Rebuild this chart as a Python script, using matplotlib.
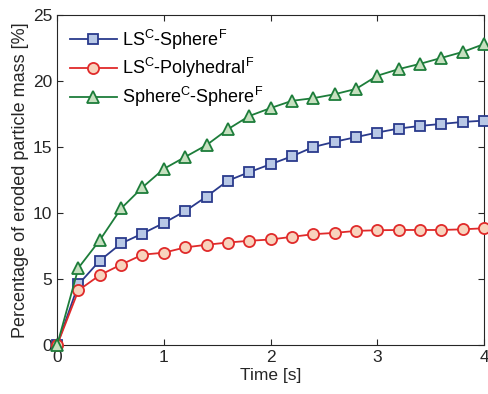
import numpy as np
import matplotlib
matplotlib.use('Agg')
import matplotlib.pyplot as plt

plt.rcParams['font.family'] = ['Liberation Sans', 'DejaVu Sans']
plt.rcParams['mathtext.fontset'] = 'custom'
plt.rcParams['mathtext.rm'] = 'Liberation Sans'
plt.rcParams['mathtext.it'] = 'Liberation Sans:italic'

time = [0.0, 0.2, 0.4, 0.6, 0.8, 1.0, 1.2, 1.4, 1.6, 1.8, 2.0,
        2.2, 2.4, 2.6, 2.8, 3.0, 3.2, 3.4, 3.6, 3.8, 4.0]
ls_sphere = [0.0, 4.6, 6.4, 7.7, 8.45, 9.25, 10.15, 11.25, 12.45, 13.1, 13.7,
             14.3, 15.0, 15.4, 15.75, 16.1, 16.4, 16.6, 16.75, 16.9, 17.0]
ls_poly = [0.0, 4.15, 5.3, 6.1, 6.85, 7.0, 7.4, 7.6, 7.77, 7.9, 8.0,
           8.2, 8.4, 8.5, 8.65, 8.7, 8.72, 8.72, 8.72, 8.77, 8.85]
sph_sphere = [0.0, 5.85, 7.95, 10.35, 11.95, 13.35, 14.25, 15.15, 16.35, 17.35, 17.95,
              18.5, 18.7, 19.0, 19.4, 20.4, 20.9, 21.3, 21.75, 22.2, 22.8]

labels = [r'LS$^{\mathrm{C}}$-Sphere$^{\mathrm{F}}$',
          r'LS$^{\mathrm{C}}$-Polyhedral$^{\mathrm{F}}$',
          r'Sphere$^{\mathrm{C}}$-Sphere$^{\mathrm{F}}$']

fig = plt.figure(figsize=(4.88, 3.94), dpi=100)
ax = fig.add_axes([0.117, 0.124, 0.875, 0.838])

ax.plot(time, ls_sphere, '-s', color='#2a3a8c', mfc='#b8c8e6', mec='#2a3a8c',
        ms=7, lw=1.3, mew=1.3, label=labels[0], clip_on=False, zorder=3)
ax.plot(time, ls_poly, '-o', color='#e02a2a', mfc='#f8d3bd', mec='#e02a2a',
        ms=8, lw=1.3, mew=1.3, label=labels[1], clip_on=False, zorder=3)
ax.plot(time, sph_sphere, '-^', color='#1d7d3a', mfc='#c6e0bf', mec='#1d7d3a',
        ms=9, lw=1.3, mew=1.3, label=labels[2], clip_on=False, zorder=3)

ax.set_xlim(0, 4)
ax.set_ylim(0, 25)
ax.set_xticks([0, 1, 2, 3, 4])
ax.set_yticks([0, 5, 10, 15, 20, 25])
ax.tick_params(direction='in', top=True, right=True, labelsize=12.5, length=4,
               color='#262626', labelcolor='#262626')
for sp in ax.spines.values():
    sp.set_color('#262626')
    sp.set_linewidth(0.8)
ax.set_xlabel('Time [s]', fontsize=12.5, color='#262626', labelpad=2)
ax.set_ylabel('Percentage of eroded particle mass [%]', fontsize=13, color='#262626', labelpad=3)
ax.legend(loc='upper left', frameon=False, fontsize=13, handlelength=2.6,
          borderaxespad=0.3, handletextpad=0.3, labelspacing=0.25)

fig.savefig('out.png', dpi=100)
